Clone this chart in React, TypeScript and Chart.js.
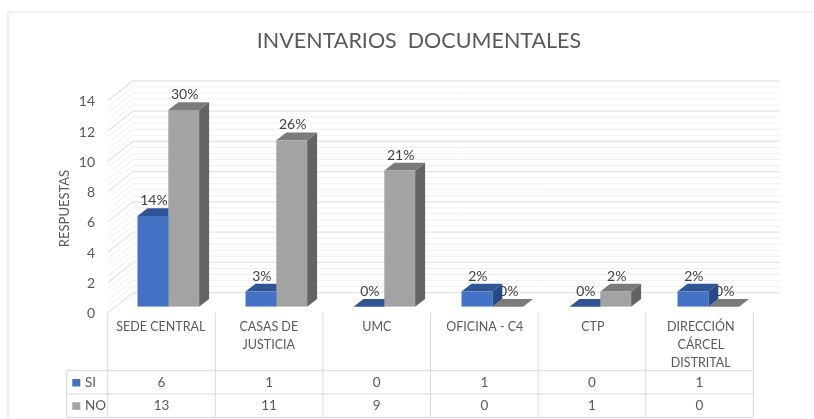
import React, { useEffect, useRef } from "react";
import { Chart, registerables } from "chart.js";

Chart.register(...registerables);

const categories: (string | string[])[] = [
  "SEDE CENTRAL",
  ["CASAS DE", "JUSTICIA"],
  "UMC",
  "OFICINA - C4",
  "CTP",
  ["DIRECCIÓN", "CÁRCEL", "DISTRITAL"],
];
const siValues = [6, 1, 0, 1, 0, 1];
const noValues = [13, 11, 9, 0, 1, 0];
const siPercent = ["14%", "3%", "0%", "2%", "0%", "2%"];
const noPercent = ["30%", "26%", "21%", "0%", "2%", "0%"];
const yTicks = [0, 2, 4, 6, 8, 10, 12, 14];

const FONT = "Lato, 'Open Sans', sans-serif";
const TEXT = "#595959";
const LINE = "#d9d9d9";
const BLUE = { front: "#4472c4", top: "#2f5597", side: "#264a86" };
const GRAY = { front: "#a3a3a3", top: "#7b7b7b", side: "#636363" };

const DEPTH_X = 10;
const DEPTH_Y = 7.7;

const poly = (ctx: CanvasRenderingContext2D, pts: number[][], fill: string) => {
  ctx.fillStyle = fill;
  ctx.beginPath();
  pts.forEach((p, i) => (i ? ctx.lineTo(p[0], p[1]) : ctx.moveTo(p[0], p[1])));
  ctx.closePath();
  ctx.fill();
};

const line = (ctx: CanvasRenderingContext2D, x1: number, y1: number, x2: number, y2: number) => {
  ctx.beginPath();
  ctx.moveTo(x1, y1);
  ctx.lineTo(x2, y2);
  ctx.stroke();
};

const scene3d = {
  id: "scene3d",
  beforeDatasetsDraw(chart: any) {
    const ctx: CanvasRenderingContext2D = chart.ctx;
    const y = chart.scales.y;
    const wallFrontX = 107.7;
    const wallBackX = 133;
    const wallRight = 780;
    const frontDy = 6;
    const backDy = -14;
    ctx.save();

    // frame
    ctx.fillStyle = "#efefef";
    ctx.fillRect(7, 11, 2, 408);
    ctx.fillRect(7, 11, 807, 1.5);

    // walls: minor then major grid lines
    for (let v = 0; v <= 14.001; v += 0.4) {
      const major = Math.abs(v / 2 - Math.round(v / 2)) < 0.001;
      if (major) continue;
      const p = y.getPixelForValue(v);
      ctx.strokeStyle = "#f0f0f0";
      ctx.lineWidth = 1;
      line(ctx, wallFrontX, p + frontDy, wallBackX, p + backDy);
      line(ctx, wallBackX, p + backDy, wallRight, p + backDy);
    }
    yTicks.forEach((v) => {
      const p = y.getPixelForValue(v);
      ctx.strokeStyle = "#e3e3e3";
      ctx.lineWidth = 1.2;
      line(ctx, wallFrontX, p + frontDy, wallBackX, p + backDy);
      line(ctx, wallBackX, p + backDy, wallRight, p + backDy);
    });

    // table
    const left = 66.7;
    const colX = 107.7;
    const colW = 107.6;
    const rows = [370.7, 394, 417.3];
    const tableRight = colX + colW * categories.length;
    ctx.strokeStyle = LINE;
    ctx.lineWidth = 1;
    rows.forEach((r) => line(ctx, left, r, tableRight, r));
    line(ctx, left, rows[0], left, rows[2]);
    for (let i = 0; i <= categories.length; i++) {
      line(ctx, colX + i * colW, 312.5, colX + i * colW, rows[2]);
    }
    ctx.fillStyle = TEXT;
    ctx.font = `13.5px ${FONT}`;
    ctx.textAlign = "center";
    ctx.textBaseline = "middle";
    categories.forEach((_, i) => {
      const cx = colX + (i + 0.5) * colW;
      ctx.fillText(String(siValues[i]), cx, 382.8);
      ctx.fillText(String(noValues[i]), cx, 406);
    });
    ctx.textAlign = "left";
    ctx.fillStyle = BLUE.front;
    ctx.fillRect(72.3, 379, 8, 7.5);
    ctx.fillStyle = GRAY.front;
    ctx.fillRect(72.3, 402.3, 8, 7.5);
    ctx.fillStyle = TEXT;
    ctx.fillText(chart.data.datasets[0].label, 85, 382.8);
    ctx.fillText(chart.data.datasets[1].label, 85, 406);

    // axis title
    ctx.save();
    ctx.translate(64.5, 208.5);
    ctx.rotate(-Math.PI / 2);
    ctx.textAlign = "center";
    ctx.font = `13px ${FONT}`;
    ctx.fillText("RESPUESTAS", 0, 0);
    ctx.restore();

    // bars' 3D faces and labels
    const drawSeries = (index: number, colors: typeof BLUE, labels: string[]) => {
      const meta = chart.getDatasetMeta(index);
      ctx.font = `14px ${FONT}`;
      ctx.textAlign = "center";
      ctx.textBaseline = "middle";
      meta.data.forEach((bar: any, i: number) => {
        ctx.fillStyle = "#404040";
        ctx.fillText(labels[i], bar.x + 1, bar.y - 15.3);
      });
      meta.data.forEach((bar: any) => {
        const x0 = bar.x - bar.width / 2;
        const x1 = bar.x + bar.width / 2;
        const t = bar.y;
        const b = bar.base;
        if (b - t > 0.5) {
          poly(ctx, [[x1, t], [x1 + DEPTH_X, t - DEPTH_Y], [x1 + DEPTH_X, b - DEPTH_Y], [x1, b]], colors.side);
        }
        poly(ctx, [[x0, t], [x1, t], [x1 + DEPTH_X, t - DEPTH_Y], [x0 + DEPTH_X, t - DEPTH_Y]], colors.top);
      });
    };
    drawSeries(1, GRAY, noPercent);
    drawSeries(0, BLUE, siPercent);
    ctx.restore();
  },
};

export default function App() {
  const ref = useRef<HTMLCanvasElement>(null);
  useEffect(() => {
    const chart = new Chart(ref.current as HTMLCanvasElement, {
      type: "bar",
      data: {
        labels: categories as any,
        datasets: [
          { label: "SI", data: siValues, backgroundColor: BLUE.front, categoryPercentage: 0.5704, barPercentage: 1 },
          { label: "NO", data: noValues, backgroundColor: GRAY.front, categoryPercentage: 0.5704, barPercentage: 1 },
        ],
      },
      options: {
        responsive: false,
        animation: false,
        layout: { padding: { left: 24, right: 0, top: 0, bottom: 0 } },
        plugins: {
          legend: { display: false },
          tooltip: { enabled: false },
          title: {
            display: true,
            text: "INVENTARIOS  DOCUMENTALES",
            color: TEXT,
            font: { family: FONT, size: 21.5, weight: "normal", lineHeight: 1.2 },
            padding: { top: 28, bottom: 41 },
          },
        },
        scales: {
          x: {
            grid: { display: false, drawTicks: false },
            border: { display: false },
            afterFit(s: any) {
              s.height = 112.3;
            },
            ticks: {
              color: TEXT,
              font: { family: FONT, size: 12.5, lineHeight: 1.44 },
              padding: 11,
              maxRotation: 0,
              autoSkip: false,
              labelOffset: -7.5,
            },
          },
          y: {
            min: 0,
            max: 14,
            grid: { display: false, drawTicks: false },
            border: { display: false },
            afterFit(s: any) {
              s.width = 90.3;
            },
            afterBuildTicks(s: any) {
              s.ticks = yTicks.map((value) => ({ value }));
            },
            ticks: {
              color: TEXT,
              font: { family: FONT, size: 14 },
              padding: 19.3,
              labelOffset: 7,
            },
          },
          spacer: {
            type: "linear",
            position: "right",
            grid: { display: false, drawTicks: false },
            border: { display: false },
            ticks: { display: false },
            afterFit(s: any) {
              s.width = 51.7;
            },
          },
        },
      },
      plugins: [scene3d],
    } as any);
    return () => chart.destroy();
  }, []);
  return (
    <div style={{ position: "fixed", left: 0, top: 0, width: 814, height: 419, background: "#fff" }}>
      <canvas ref={ref} width={814} height={419} style={{ display: "block" }} />
    </div>
  );
}
